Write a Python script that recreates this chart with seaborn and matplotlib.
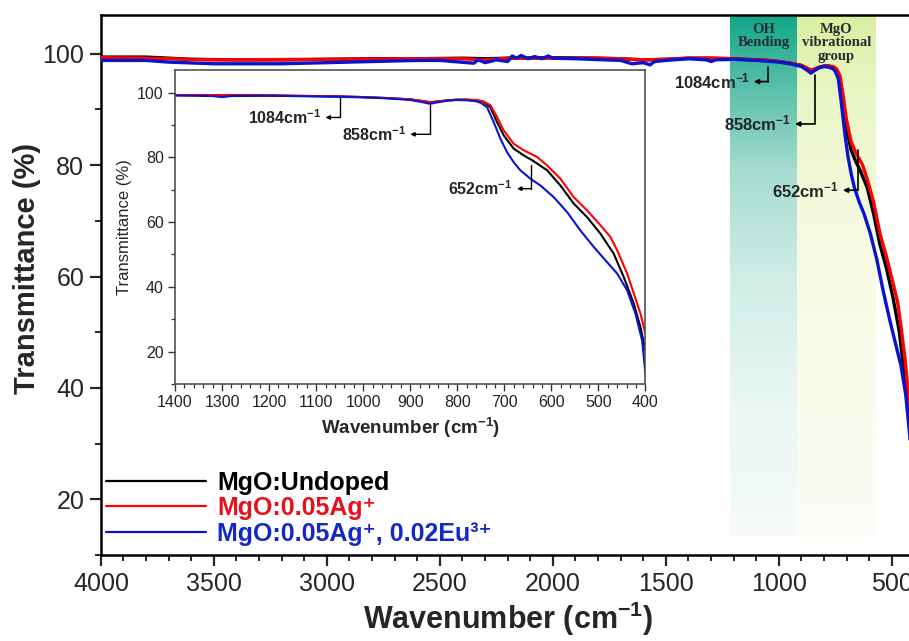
import numpy as np
import pandas as pd
import matplotlib
matplotlib.use("Agg")
import matplotlib.pyplot as plt
from matplotlib.colors import LinearSegmentedColormap
from matplotlib.ticker import MultipleLocator
import seaborn as sns

# ---------------- data ----------------
wn_undoped = [4000, 3800, 3700, 3600, 3400, 3200, 3000, 2800, 2600, 2400, 2300, 2200, 2000, 1800,
              1700, 1600, 1500, 1400, 1300, 1200, 1100, 1050, 1000, 950, 900, 870, 858, 845, 820,
              800, 780, 760, 745, 730, 715.6, 701.4, 680.2, 659, 641, 609.1, 580.9, 552.5, 524,
              495.7, 467.4, 446.2, 424.8, 410.6, 400]
t_undoped = [99.4, 99.4, 99.2, 99.0, 98.9, 98.9, 99.0, 99.1, 99.1, 99.2, 99.1, 99.2, 99.3, 99.2,
             99.1, 98.9, 99.0, 99.2, 99.2, 99.1, 98.9, 98.8, 98.6, 98.3, 97.9, 97.3, 97.0, 97.2, 97.6,
             97.8, 97.8, 97.6, 97.2, 95.5, 90.9, 86.8, 82.7, 80.6, 79.1, 76.0, 71.3, 65.7, 61.5,
             56.4, 50.2, 43.0, 34.8, 27.5, 20.3]

wn_ag = [4000, 3800, 3700, 3500, 3000, 2600, 2400, 2300, 2200, 2000, 1800, 1700, 1600, 1500, 1400,
         1300, 1200, 1100, 1050, 1000, 950, 900, 870, 858, 845, 820, 800, 780, 760, 745, 729.8,
         715.6, 701.4, 680.2, 659, 630.4, 609.1, 580.9, 552.5, 524, 495.7, 474.5, 460.2, 438.9,
         424.8, 410.6, 400]
t_ag = [99.3, 99.2, 99.1, 98.9, 99.0, 99.1, 99.1, 98.9, 99.2, 99.2, 99.2, 99.1, 98.9, 99.0, 99.2,
        99.2, 99.1, 98.9, 98.8, 98.6, 98.3, 97.9, 97.3, 97.0, 97.2, 97.6, 97.8, 97.8, 97.7, 97.3, 96.1,
        92.5, 88.3, 84.2, 82.2, 80.1, 77.5, 73.4, 67.7, 63.6, 59.0, 55.4, 51.3, 44.1,
        37.9, 31.7, 25.5]

wn_ageu = [4000, 3800, 3700, 3500, 3200, 3000, 2800, 2600, 2500, 2350, 2330, 2300, 2250, 2200,
           2180, 2160, 2140, 2110, 2080, 2050, 2020, 2000, 1900, 1700, 1650, 1600, 1570, 1550, 1500,
           1400, 1320, 1300, 1280, 1200, 1100, 1000, 950, 900, 870, 858, 845, 820, 800, 780, 760,
           750, 736.8, 722.7, 708.5, 694.3, 680.2, 666, 644.7, 623.4, 595.1, 566.7, 538.3, 509.9,
           481.5, 460.2, 438.9, 421.3, 407.1, 400]
t_ageu = [98.8, 98.8, 98.5, 98.2, 98.2, 98.4, 98.6, 98.8, 98.8, 98.3, 98.9, 98.4, 98.9, 98.6,
          99.6, 99.2, 99.7, 99.1, 99.5, 99.1, 99.6, 99.2, 99.1, 98.8, 98.2, 98.4, 98.0, 98.6, 98.8,
          99.1, 98.9, 98.6, 98.9, 99.0, 98.8, 98.5, 98.2, 97.7, 96.9, 96.5, 96.9, 97.5, 97.7, 97.6, 97.3,
          96.8, 95.5, 90.9, 85.8, 81.6, 78.5, 76.0, 73.4, 71.3, 67.7, 63.1, 57.4, 52.3,
          47.6, 44.1, 38.9, 31.7, 23.4, 13.1]

labels = ["MgO:Undoped",
          "MgO:0.05Ag\u207A",
          "MgO:0.05Ag\u207A, 0.02Eu\u00B3\u207A"]
line_colors = ["#000000", "#ff0000", "#0a14d0"]
text_colors = ["#000000", "#e8101a", "#1428c8"]

# ---------------- style ----------------
sns.set_style("ticks")
plt.rcParams["font.family"] = ["Liberation Sans", "DejaVu Sans"]
plt.rcParams["mathtext.fontset"] = "custom"
plt.rcParams["mathtext.rm"] = "Liberation Sans"
plt.rcParams["mathtext.bf"] = "Liberation Sans:bold"
plt.rcParams["mathtext.default"] = "bf"

frames = []
for lab, w, t in zip(labels, [wn_undoped, wn_ag, wn_ageu], [t_undoped, t_ag, t_ageu]):
    frames.append(pd.DataFrame({"wn": w, "T": t, "sample": lab}))
df = pd.concat(frames, ignore_index=True)

fig = plt.figure(figsize=(9.09, 6.41), dpi=100)
ax = fig.add_axes([0.111, 0.134, 0.895, 0.843])

# gradient bands
def band(ax, x0, x1, y0, y1, stops):
    cmap = LinearSegmentedColormap.from_list("b", stops)
    grad = np.linspace(0, 1, 256).reshape(-1, 1)
    ax.imshow(grad, cmap=cmap, extent=[x0, x1, y0, y1], origin="upper",
              aspect="auto", zorder=0, interpolation="bilinear")

band(ax, 1217, 920, 13.4, 107, [(0, "#10a789"), (0.12, "#4fbca6"), (0.3, "#a6dccf"),
                                  (0.5, "#cfece5"), (0.75, "#eaf7f5"), (1, "#f6fafb")])
band(ax, 920, 572, 13.4, 107, [(0, "#d8efa0"), (0.15, "#eaf6c6"), (0.4, "#f6fae0"),
                                 (0.75, "#fafcee"), (1, "#fbfcf7")])

sns.lineplot(data=df, x="wn", y="T", hue="sample", palette=dict(zip(labels, line_colors)),
             linewidth=2.4, ax=ax, zorder=3, estimator=None, sort=True)

ax.set_xlim(4000, 400)
ax.set_ylim(10, 107)
ax.xaxis.set_major_locator(MultipleLocator(500))
ax.xaxis.set_minor_locator(MultipleLocator(100))
ax.set_yticks([20, 40, 60, 80, 100])
ax.yaxis.set_minor_locator(MultipleLocator(10))
ax.tick_params(which="major", direction="out", length=8, width=1.6, labelsize=18, pad=4)
ax.tick_params(which="minor", direction="out", length=4.5, width=1.4)
for s in ax.spines.values():
    s.set_linewidth(1.8)
    s.set_color("black")
ax.set_xlabel(r"Wavenumber (cm$^{\mathbf{-1}}$)", fontsize=22, fontweight="bold", labelpad=3)
ax.set_ylabel("Transmittance (%)", fontsize=21, fontweight="bold", labelpad=8)
ax.yaxis.set_label_coords(-0.074, 0.53)

leg = ax.legend(loc="center left", bbox_to_anchor=(0.0, 0.087), frameon=False,
                handlelength=4.0, handletextpad=0.45, labelspacing=0.06,
                borderaxespad=0.0, borderpad=0.2,
                prop={"weight": "bold", "size": 18})
for txt, c in zip(leg.get_texts(), text_colors):
    txt.set_color(c)
for h in leg.get_lines():
    h.set_linewidth(1.6)

# band labels
ax.text(1068, 105.6, "OH\nBending", ha="center", va="top", fontsize=10.5, fontweight="bold",
        family="Liberation Serif", color="#2b2b2b", linespacing=1.05, zorder=4)
ax.text(746, 105.6, "MgO\nvibrational\ngroup", ha="center", va="top", fontsize=10.5,
        fontweight="bold", family="Liberation Serif", color="#2b2b2b", linespacing=1.05, zorder=4)

def bracket(ax, xv, ytop, ybot, xend, text, fs, lw=1.2, ms=7):
    ax.plot([xv, xv], [ytop, ybot], color="black", lw=lw, zorder=5)
    ax.annotate("", xy=(xend, ybot), xytext=(xv, ybot),
                arrowprops=dict(arrowstyle="-|>", color="black", lw=lw, mutation_scale=ms,
                                shrinkA=0, shrinkB=0), zorder=5)
    ax.annotate(text, xy=(xend, ybot), xytext=(-3, 0), textcoords="offset points",
                ha="right", va="center", fontsize=fs, fontweight="bold", zorder=5)

bracket(ax, 1049, 97.7, 95.0, 1111, r"1084cm$^{\mathbf{-1}}$", 12)
bracket(ax, 841, 96.2, 87.4, 929, r"858cm$^{\mathbf{-1}}$", 12)
bracket(ax, 650, 82.8, 75.5, 717, r"652cm$^{\mathbf{-1}}$", 12)

# ---------------- inset ----------------
ins = fig.add_axes([0.1925, 0.401, 0.5176, 0.490])
ins.set_facecolor("white")
sns.lineplot(data=df[df["wn"] <= 1420], x="wn", y="T", hue="sample",
             palette=dict(zip(labels, line_colors)), linewidth=1.5, ax=ins,
             estimator=None, sort=True, legend=False)
ins.set_xlim(1400, 400)
ins.set_ylim(10, 107)
ins.xaxis.set_major_locator(MultipleLocator(100))
ins.xaxis.set_minor_locator(MultipleLocator(20))
ins.set_yticks([20, 40, 60, 80, 100])
ins.yaxis.set_minor_locator(MultipleLocator(10))
ins.tick_params(which="major", direction="out", length=5, width=1.0, labelsize=11.5, pad=3,
                colors="#333333", labelcolor="#222222")
ins.tick_params(which="minor", direction="out", length=3, width=0.9, colors="#333333")
for s in ins.spines.values():
    s.set_linewidth(1.1)
    s.set_color("#444444")
ins.set_xlabel(r"Wavenumber (cm$^{\mathbf{-1}}$)", fontsize=13.5, fontweight="bold", labelpad=4)
ins.set_ylabel("Transmittance (%)", fontsize=12, labelpad=4)

bracket(ins, 1049, 98.6, 92.3, 1080, r"1084cm$^{\mathbf{-1}}$", 11.5, lw=1.0, ms=6)
bracket(ins, 857, 96.1, 87.1, 900, r"858cm$^{\mathbf{-1}}$", 11.5, lw=1.0, ms=6)
bracket(ins, 643, 77.5, 70.3, 673, r"652cm$^{\mathbf{-1}}$", 11.5, lw=1.0, ms=6)

fig.savefig("out.png", dpi=100)
